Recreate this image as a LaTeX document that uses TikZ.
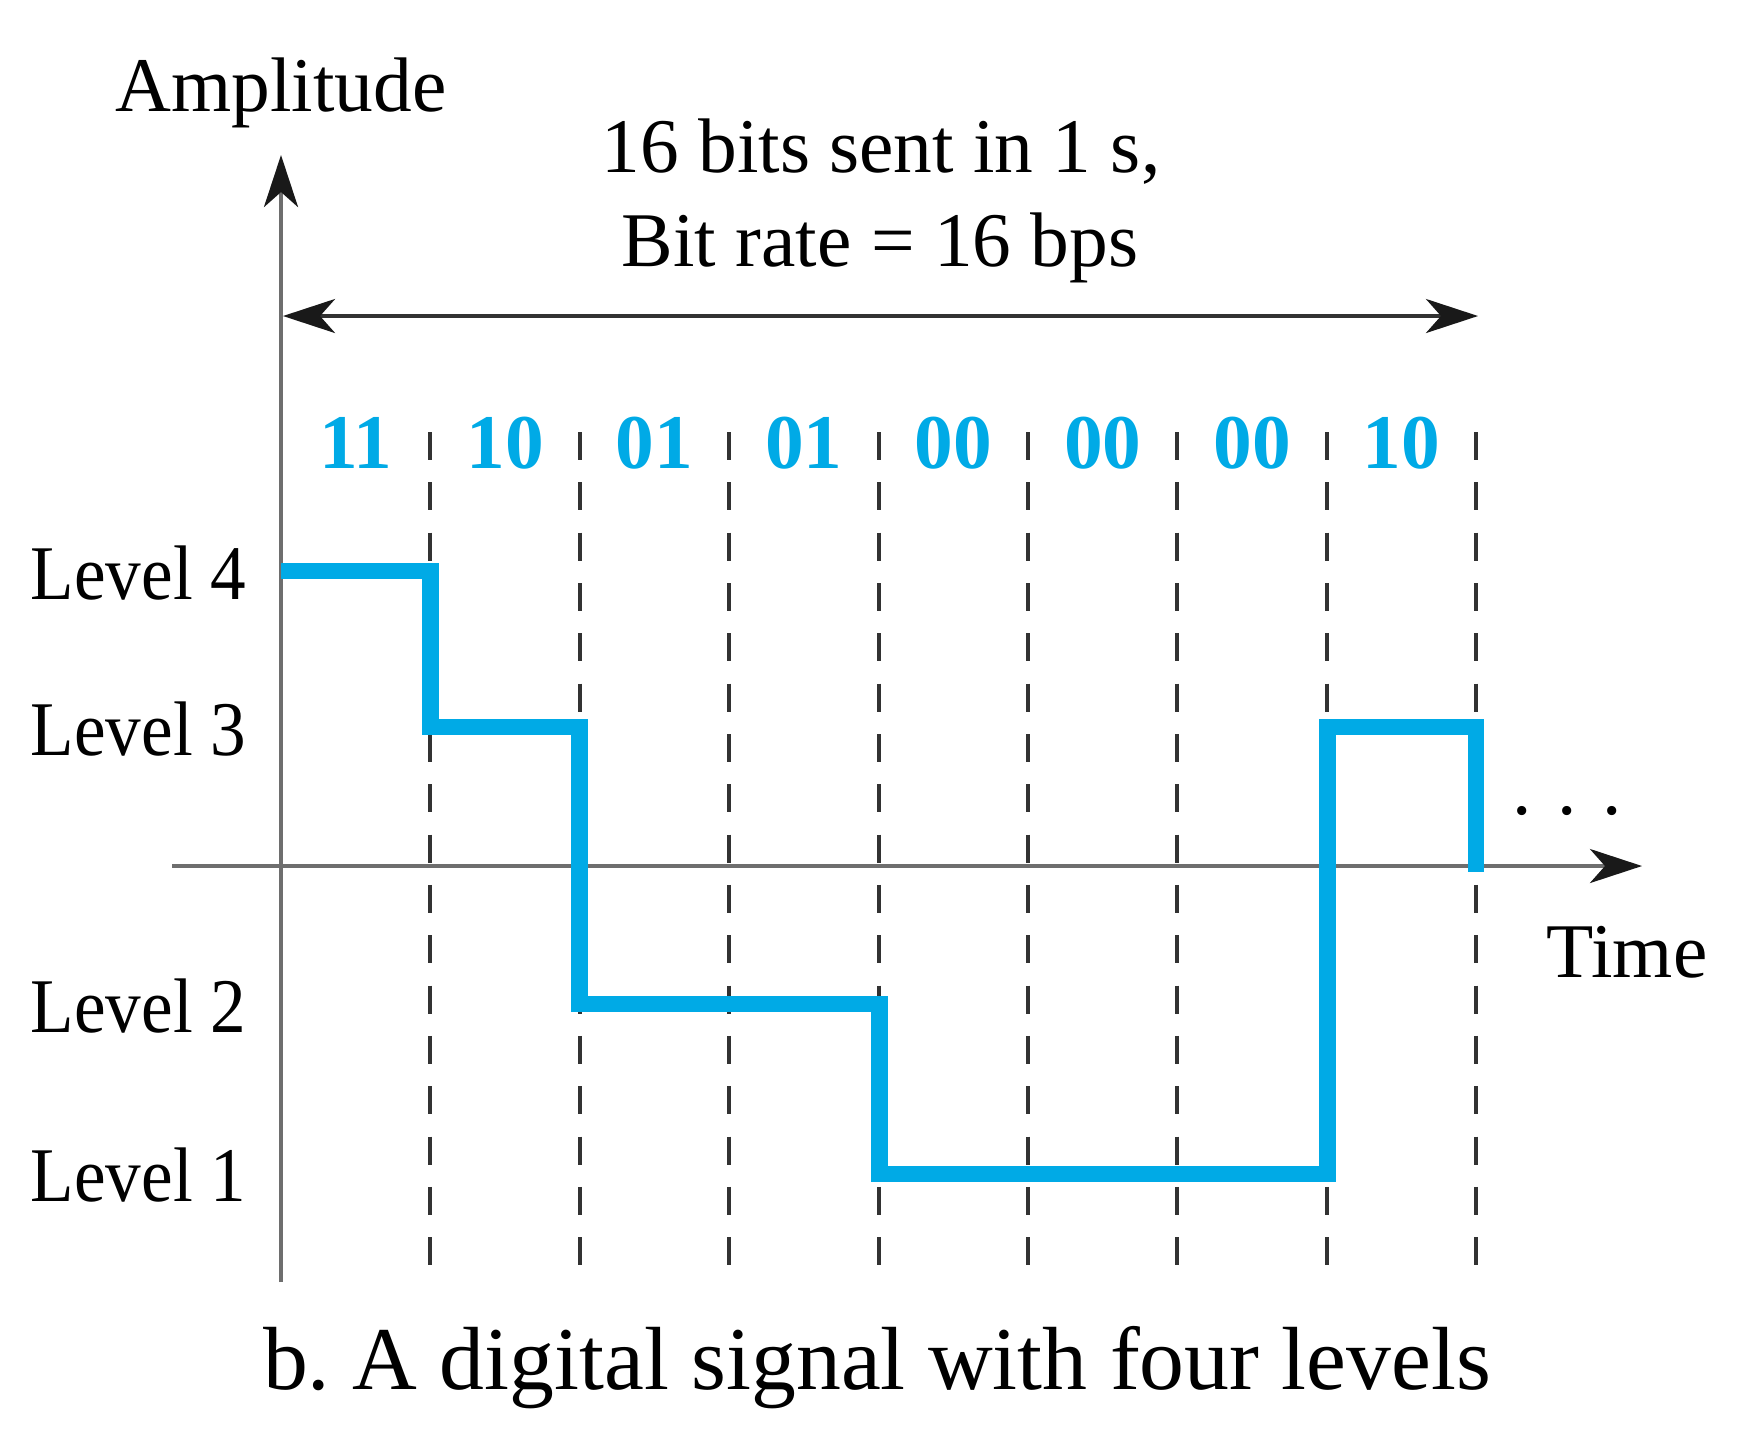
\documentclass[tikz,border=0pt]{standalone}
\usepackage{fontspec}
\setmainfont{Liberation Serif}
\newfontfamily\condserif[FakeStretch=0.92]{Liberation Serif}
\usetikzlibrary{arrows.meta}
\definecolor{sigblue}{RGB}{0,170,230}
\definecolor{axisgray}{RGB}{110,110,110}
\definecolor{dashgray}{RGB}{50,50,50}
\definecolor{tipblack}{RGB}{25,25,25}
\begin{document}
\begin{tikzpicture}[x=0.01cm,y=-0.01cm,
  axis/.style={draw=axisgray,line width=1.15pt},
  bigtip/.tip={Stealth[length=0.52cm,width=0.34cm,inset=0.15cm,color=tipblack]},
  gridline/.style={draw=dashgray,line width=1.1pt,dash pattern=on 0.28cm off 0.223cm},
  signal/.style={draw=sigblue,line width=4.8pt,line join=miter,line cap=butt},
  lbl/.style={inner sep=0pt,font=\fontsize{22}{26}\selectfont},
  bits/.style={inner sep=0pt,text=sigblue,font=\fontsize{22}{26}\selectfont\bfseries},
  lvl/.style={inner sep=0pt,anchor=base east,font=\condserif\fontsize{22}{26}\selectfont}]
\useasboundingbox (0,0) rectangle (1740,1432);
\fill[white] (0,0) rectangle (1740,1432);
% axes
\coordinate (ybot) at (281,1282);
\coordinate (ytop) at (281,155);
\coordinate (xl) at (172,866);
\coordinate (xr) at (1642,866);
\draw[axis,-bigtip] (ybot) -- (ytop);
\draw[axis,-bigtip] (xl) -- (xr);
% grid lines
\foreach \i in {1,...,8}{
  \coordinate (gt\i) at ({281+149.4*\i},432);
  \coordinate (gb\i) at ({281+149.4*\i},1265);
  \draw[gridline] (gt\i) -- (gb\i);
}
% double arrow
\coordinate (dl) at (283,316);
\coordinate (dr) at (1478,316);
\draw[draw=dashgray,line width=1.1pt,bigtip-bigtip] (dl) -- (dr);
% texts
\node[lbl,anchor=base] (amp) at (281,111) {Amplitude};
\node[lbl,anchor=base] (t1) at (881,172) {16 bits sent in 1 s,};
\node[lbl,anchor=base] (t2) at (880,266) {Bit rate = 16 bps};
\node[lbl,anchor=base] (time) at (1627,977) {Time};
\node[lbl,anchor=base] (dots) at (1567,814) {. . .};
\node[inner sep=0pt,anchor=base,font=\fontsize{25.5}{30}\selectfont] (cap) at (877,1389) {b.\ A digital signal with four levels};
% level labels
\node[lvl] (l4) at (247,599) {Level 4};
\node[lvl] (l3) at (247,755) {Level 3};
\node[lvl] (l2) at (247,1032) {Level 2};
\node[lvl] (l1) at (247,1201) {Level 1};
% bit labels
\foreach \b [count=\i] in {11,10,01,01,00,00,00,10}{
  \node[bits,anchor=base] (b\i) at ({281+149.4*(\i-0.5)},468) {\b};
}
% signal
\draw[signal] (281,571) -- (430.4,571) -- (430.4,727) -- (579.8,727) -- (579.8,1004)
  -- (879.2,1004) -- (879.2,1174) -- (1327.6,1174) -- (1327.6,727) -- (1476,727) -- (1476,872);
\end{tikzpicture}
\end{document}
